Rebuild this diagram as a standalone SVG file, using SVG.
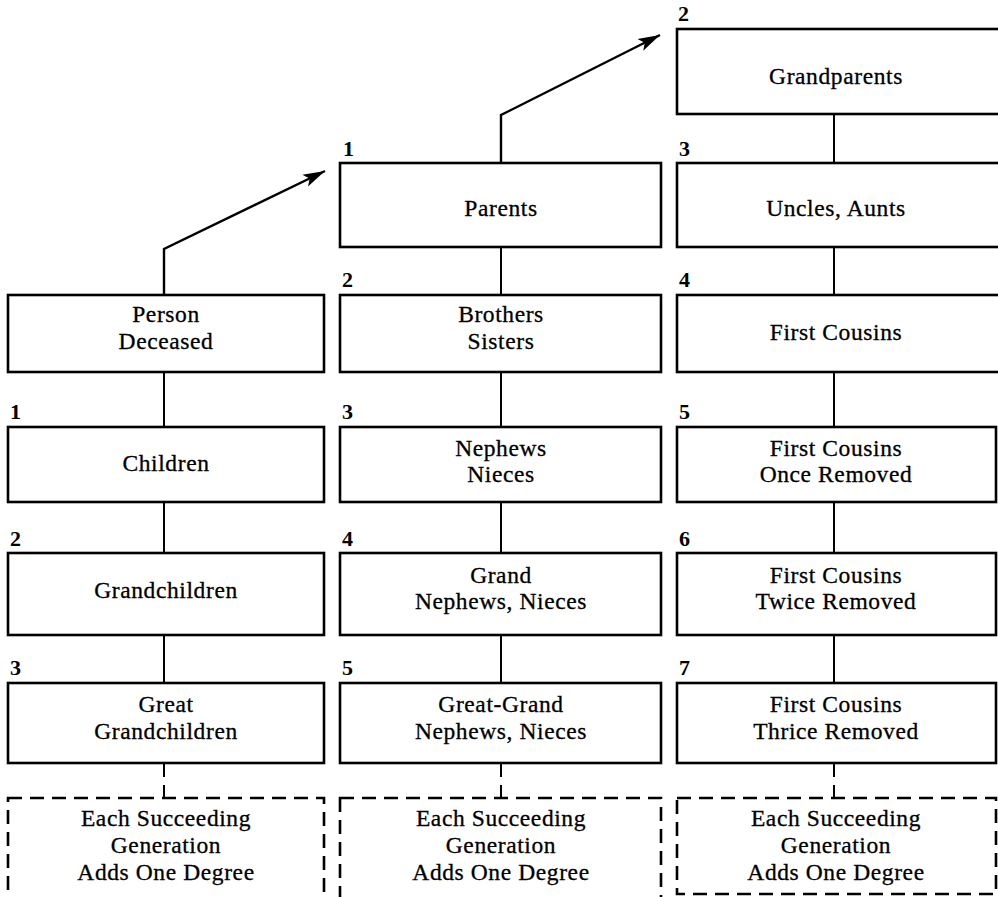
<svg xmlns="http://www.w3.org/2000/svg" width="998" height="897" viewBox="0 0 998 897">
<defs>
<style>
.box{fill:none;stroke:#000;stroke-width:2.6}
.dbox{fill:none;stroke:#000;stroke-width:2.6;stroke-dasharray:14 8}
.ln{fill:none;stroke:#000;stroke-width:2}
.arr{fill:none;stroke:#000;stroke-width:2.4}
.dln{fill:none;stroke:#000;stroke-width:2;stroke-dasharray:14 8}
.t{font-family:"Liberation Serif","Times New Roman",serif;font-size:23.5px;letter-spacing:0.6px;text-anchor:middle;fill:#000;stroke:#000;stroke-width:0.3}
.n{font-family:"Liberation Serif","Times New Roman",serif;font-size:22px;font-weight:bold;fill:#000}
</style>
<marker id="ah" markerUnits="userSpaceOnUse" markerWidth="24" markerHeight="14" refX="22" refY="7" orient="auto">
<path d="M0,0.5 L22,7 L0,13.5 L5,7 Z" fill="#000"/>
</marker>
</defs>
<rect width="998" height="897" fill="#fff"/>
<g id="connectors">
<polyline class="arr" points="164,295 164,249 325,171" marker-end="url(#ah)"/>
<polyline class="arr" points="501,163 501,115 660,35" marker-end="url(#ah)"/>
<line class="ln" x1="164" y1="372" x2="164" y2="427"/>
<line class="ln" x1="164" y1="502" x2="164" y2="553"/>
<line class="ln" x1="164" y1="635" x2="164" y2="683"/>
<line class="dln" x1="164" y1="763" x2="164" y2="798"/>
<line class="ln" x1="501" y1="247" x2="501" y2="295"/>
<line class="ln" x1="501" y1="372" x2="501" y2="427"/>
<line class="ln" x1="501" y1="502" x2="501" y2="553"/>
<line class="ln" x1="501" y1="635" x2="501" y2="683"/>
<line class="dln" x1="501" y1="763" x2="501" y2="798"/>
<line class="ln" x1="834" y1="114" x2="834" y2="163"/>
<line class="ln" x1="834" y1="247" x2="834" y2="295"/>
<line class="ln" x1="834" y1="372" x2="834" y2="427"/>
<line class="ln" x1="834" y1="502" x2="834" y2="553"/>
<line class="ln" x1="834" y1="635" x2="834" y2="683"/>
<line class="dln" x1="834" y1="763" x2="834" y2="798"/>
</g>
<g id="grandparents"><text class="n" x="678" y="21">2</text><rect class="box" x="677" y="29" width="330" height="85"/><text class="t" x="836" y="84">Grandparents</text></g>
<g id="parents"><text class="n" x="343" y="156">1</text><rect class="box" x="340" y="163" width="321" height="84"/><text class="t" x="501" y="216">Parents</text></g>
<g id="uncles"><text class="n" x="679" y="156">3</text><rect class="box" x="677" y="163" width="330" height="84"/><text class="t" x="836" y="216">Uncles, Aunts</text></g>
<g id="person"><rect class="box" x="8" y="295" width="316" height="77"/><text class="t" x="166" y="322">Person</text><text class="t" x="166" y="349">Deceased</text></g>
<g id="brothers"><text class="n" x="342" y="287">2</text><rect class="box" x="340" y="295" width="321" height="77"/><text class="t" x="501" y="322">Brothers</text><text class="t" x="501" y="349">Sisters</text></g>
<g id="firstcousins"><text class="n" x="679" y="287">4</text><rect class="box" x="677" y="295" width="330" height="77"/><text class="t" x="836" y="340">First Cousins</text></g>
<g id="children"><text class="n" x="10" y="419">1</text><rect class="box" x="8" y="427" width="316" height="75"/><text class="t" x="166" y="471">Children</text></g>
<g id="nephews"><text class="n" x="342" y="419">3</text><rect class="box" x="340" y="427" width="321" height="75"/><text class="t" x="501" y="456">Nephews</text><text class="t" x="501" y="482">Nieces</text></g>
<g id="fc1"><text class="n" x="679" y="419">5</text><rect class="box" x="677" y="427" width="319" height="75"/><text class="t" x="836" y="456">First Cousins</text><text class="t" x="836" y="482">Once Removed</text></g>
<g id="grandchildren"><text class="n" x="10" y="546">2</text><rect class="box" x="8" y="553" width="316" height="82"/><text class="t" x="166" y="598">Grandchildren</text></g>
<g id="grandnephews"><text class="n" x="342" y="546">4</text><rect class="box" x="340" y="553" width="321" height="82"/><text class="t" x="501" y="583">Grand</text><text class="t" x="501" y="609">Nephews, Nieces</text></g>
<g id="fc2"><text class="n" x="679" y="546">6</text><rect class="box" x="677" y="553" width="319" height="82"/><text class="t" x="836" y="583">First Cousins</text><text class="t" x="836" y="609">Twice Removed</text></g>
<g id="greatgrandchildren"><text class="n" x="10" y="675">3</text><rect class="box" x="8" y="683" width="316" height="80"/><text class="t" x="166" y="712">Great</text><text class="t" x="166" y="739">Grandchildren</text></g>
<g id="greatgrandnephews"><text class="n" x="342" y="675">5</text><rect class="box" x="340" y="683" width="321" height="80"/><text class="t" x="501" y="712">Great-Grand</text><text class="t" x="501" y="739">Nephews, Nieces</text></g>
<g id="fc3"><text class="n" x="679" y="675">7</text><rect class="box" x="677" y="683" width="319" height="80"/><text class="t" x="836" y="712">First Cousins</text><text class="t" x="836" y="739">Thrice Removed</text></g>
<g id="succ1"><rect class="dbox" x="8" y="798" width="316" height="104"/><text class="t" x="166" y="826">Each Succeeding</text><text class="t" x="166" y="853">Generation</text><text class="t" x="166" y="880">Adds One Degree</text></g>
<g id="succ2"><rect class="dbox" x="340" y="798" width="321" height="104"/><text class="t" x="501" y="826">Each Succeeding</text><text class="t" x="501" y="853">Generation</text><text class="t" x="501" y="880">Adds One Degree</text></g>
<g id="succ3"><rect class="dbox" x="677" y="798" width="319" height="96"/><text class="t" x="836" y="826">Each Succeeding</text><text class="t" x="836" y="853">Generation</text><text class="t" x="836" y="880">Adds One Degree</text></g>
</svg>
